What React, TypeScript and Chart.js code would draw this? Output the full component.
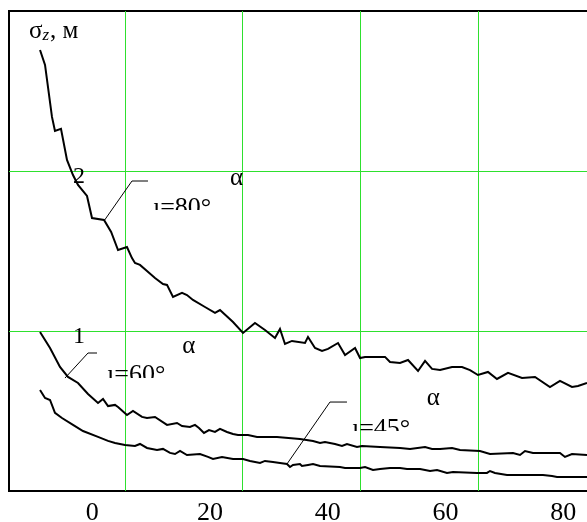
import React, { useEffect, useRef } from 'react';
import { Chart, registerables } from 'chart.js';

Chart.register(...registerables);

// ---- axis values ----
const xTickValues = [0, 20, 40, 60, 80];
const xGridValues = [5.5, 25.5, 45.5, 65.5];
const yGridValues = [1, 2];
const xMin = -14.15;
const xMax = 84.03;
const yMin = 0;
const yMax = 3;

// ---- curve 2 : alpha = 80 deg ----
const curve80X = [-8.88, -8.03, -6.85, -6.34, -5.32, -4.3, -3.28, -2.43, -0.9, -0.05, 1.99, 3.2, 4.37, 5.89, 6.74, 7.25, 8.1, 9.29, 10.65, 12.01, 12.69, 13.71, 15.24, 16.08, 17.1, 19.14, 20.84, 21.69, 23.9, 25.6, 27.63, 29.33, 31.03, 31.88, 32.73, 33.92, 36.13, 36.64, 37.83, 39.02, 40.04, 41.74, 42.93, 44.63, 45.48, 46.33, 49.72, 50.57, 52.27, 53.63, 55.33, 56.52, 57.71, 59.07, 61.1, 62.8, 64.16, 65.51, 67.21, 68.74, 70.61, 72.99, 75.2, 77.74, 79.44, 81.48, 82.5, 84.03];
const curve80Y = [2.756, 2.663, 2.338, 2.25, 2.263, 2.069, 1.975, 1.913, 1.844, 1.706, 1.694, 1.619, 1.506, 1.525, 1.456, 1.425, 1.413, 1.375, 1.331, 1.294, 1.288, 1.213, 1.238, 1.225, 1.194, 1.15, 1.113, 1.131, 1.056, 0.988, 1.05, 1.006, 0.956, 1.013, 0.919, 0.938, 0.925, 0.963, 0.894, 0.875, 0.888, 0.925, 0.85, 0.894, 0.831, 0.838, 0.838, 0.806, 0.8, 0.819, 0.75, 0.813, 0.763, 0.756, 0.775, 0.775, 0.756, 0.725, 0.744, 0.7, 0.738, 0.706, 0.713, 0.65, 0.688, 0.65, 0.656, 0.675];

// ---- curve 1 : alpha = 60 deg ----
const curve60X = [-8.88, -7.18, -5.49, -4.13, -2.43, -0.73, 0.97, 1.82, 2.67, 3.86, 4.37, 5.89, 6.91, 8.44, 9.29, 10.65, 12.69, 14.39, 15.24, 16.59, 17.44, 18.12, 18.97, 19.82, 20.84, 21.69, 22.88, 23.9, 24.75, 26.45, 27.98, 31.37, 35.27, 37.49, 38.68, 39.52, 41.22, 42.41, 43.26, 44.96, 45.81, 48.87, 52.27, 53.97, 56.52, 57.71, 59.07, 61.1, 62.46, 65.85, 67.55, 71.46, 72.65, 73.5, 74.86, 79.44, 80.29, 81.48, 84.03];
const curve60Y = [0.994, 0.894, 0.775, 0.713, 0.675, 0.606, 0.55, 0.575, 0.531, 0.538, 0.525, 0.475, 0.5, 0.463, 0.456, 0.463, 0.413, 0.425, 0.406, 0.4, 0.413, 0.394, 0.363, 0.381, 0.369, 0.388, 0.369, 0.356, 0.35, 0.35, 0.338, 0.338, 0.325, 0.313, 0.3, 0.306, 0.294, 0.281, 0.294, 0.275, 0.281, 0.275, 0.269, 0.263, 0.275, 0.263, 0.263, 0.269, 0.256, 0.25, 0.231, 0.238, 0.225, 0.25, 0.238, 0.238, 0.213, 0.231, 0.225];

// ---- curve 3 : alpha = 45 deg ----
const curve45X = [-8.88, -8.03, -7.18, -6.34, -5.15, -3.28, -1.58, 0.97, 2.67, 3.86, 5.55, 7.25, 8.1, 9.29, 10.99, 12.01, 13.2, 14.05, 14.9, 16.08, 18.29, 19.65, 20.5, 22.03, 23.9, 25.6, 26.79, 28.49, 29.33, 30.69, 31.88, 33.07, 33.58, 34.09, 35.27, 35.61, 36.64, 37.49, 38.68, 42.07, 42.93, 45.48, 46.33, 47.68, 48.87, 50.57, 52.27, 53.46, 55.67, 57.37, 58.56, 60.25, 61.27, 65.34, 67.04, 67.55, 68.4, 70.44, 72.65, 76.56, 78.09, 78.94, 84.03];
const curve45Y = [0.631, 0.581, 0.569, 0.488, 0.456, 0.413, 0.375, 0.338, 0.313, 0.3, 0.288, 0.281, 0.294, 0.269, 0.256, 0.263, 0.238, 0.231, 0.25, 0.225, 0.231, 0.213, 0.2, 0.213, 0.2, 0.2, 0.188, 0.175, 0.188, 0.181, 0.175, 0.169, 0.15, 0.163, 0.169, 0.156, 0.163, 0.169, 0.156, 0.15, 0.144, 0.144, 0.15, 0.131, 0.138, 0.144, 0.144, 0.138, 0.138, 0.125, 0.131, 0.113, 0.119, 0.113, 0.113, 0.125, 0.113, 0.1, 0.1, 0.1, 0.094, 0.088, 0.088];

// ---- leader lines (data units) ----
const leader80X = [1.99, 6.74, 9.46];
const leader80Y = [1.688, 1.9375, 1.9375];
const leader60X = [-4.64, -0.73, 0.8];
const leader60Y = [0.706, 0.8625, 0.8625];
const leader45X = [33.07, 40.37, 43.26];
const leader45Y = [0.169, 0.556, 0.556];

// ---- text annotations (data units) ----
const curveNumbers = [
  { text: '2', x: -3.28, y: 1.925 },
  { text: '1', x: -3.28, y: 0.925 },
];
const alphaLabels = [
  { text: 'α', x: 23.4, y: 1.9125 },
  { text: 'α', x: 15.27, y: 0.8625 },
  { text: 'α', x: 56.82, y: 0.5375 },
];
const angleLabels = [
  { text: 'ı=80°', x: 10.3, y: 1.725, clipY: 1.756 },
  { text: 'ı=60°', x: 2.5, y: 0.681, clipY: 0.706 },
  { text: 'ı=45°', x: 44.1, y: 0.344, clipY: 0.375 },
];
const axisTitle = { sigma: 'σ', sub: 'z', rest: ', м' };

const SERIF = '"Liberation Serif", "Times New Roman", serif';
const GREEN = '#2ee02e';

const zip = (xs: number[], ys: number[]) => xs.map((x, i) => ({ x, y: ys[i] }));

const gridPlugin = {
  id: 'greenGrid',
  beforeDatasetsDraw(chart: any) {
    const { ctx, chartArea, scales } = chart;
    const sx = scales.x;
    const sy = scales.y;
    ctx.save();
    ctx.strokeStyle = GREEN;
    ctx.lineWidth = 1;
    ctx.beginPath();
    xGridValues.forEach((v) => {
      const px = Math.round(sx.getPixelForValue(v)) + 0.5;
      ctx.moveTo(px, chartArea.top);
      ctx.lineTo(px, chartArea.bottom);
    });
    yGridValues.forEach((v) => {
      const py = Math.round(sy.getPixelForValue(v)) + 0.5;
      ctx.moveTo(chartArea.left, py);
      ctx.lineTo(chartArea.right, py);
    });
    ctx.stroke();
    ctx.restore();
  },
};

const annotPlugin = {
  id: 'annot',
  afterDatasetsDraw(chart: any) {
    const { ctx, chartArea, scales } = chart;
    const sx = scales.x;
    const sy = scales.y;
    ctx.save();
    ctx.fillStyle = '#000';
    ctx.textBaseline = 'alphabetic';
    ctx.textAlign = 'left';

    ctx.font = `24px ${SERIF}`;
    curveNumbers.forEach((t) => {
      ctx.fillText(t.text, sx.getPixelForValue(t.x), sy.getPixelForValue(t.y));
    });
    ctx.font = `25px ${SERIF}`;
    alphaLabels.forEach((t) => {
      ctx.fillText(t.text, sx.getPixelForValue(t.x), sy.getPixelForValue(t.y));
    });
    ctx.font = `26px ${SERIF}`;
    angleLabels.forEach((t) => {
      const px = sx.getPixelForValue(t.x);
      const py = sy.getPixelForValue(t.y);
      const clip = sy.getPixelForValue(t.clipY);
      ctx.save();
      ctx.beginPath();
      ctx.rect(px - 5, py - 40, 90, clip - (py - 40));
      ctx.clip();
      ctx.fillText(t.text, px, py);
      ctx.restore();
    });

    // axis title
    let ax = chartArea.left + 20;
    const ay = chartArea.top + 27;
    ctx.font = `25px ${SERIF}`;
    ctx.fillText(axisTitle.sigma, ax, ay);
    ax += ctx.measureText(axisTitle.sigma).width;
    ctx.font = `italic 17px ${SERIF}`;
    ctx.fillText(axisTitle.sub, ax, ay + 2);
    ax += ctx.measureText(axisTitle.sub).width + 1;
    ctx.font = `25px ${SERIF}`;
    ctx.fillText(axisTitle.rest, ax, ay);
    ctx.restore();
  },
};

export default function App() {
  const ref = useRef<HTMLCanvasElement | null>(null);
  useEffect(() => {
    if (!ref.current) return;
    const curveStyle = { borderColor: '#000', borderWidth: 2, pointRadius: 0, tension: 0, fill: false };
    const leaderStyle = { borderColor: '#000', borderWidth: 1, pointRadius: 0, tension: 0, fill: false };
    const chart = new Chart(ref.current, {
      type: 'line',
      data: {
        datasets: [
          { label: 'α=80°', data: zip(curve80X, curve80Y), ...curveStyle },
          { label: 'α=60°', data: zip(curve60X, curve60Y), ...curveStyle },
          { label: 'α=45°', data: zip(curve45X, curve45Y), ...curveStyle },
          { label: 'l80', data: zip(leader80X, leader80Y), ...leaderStyle },
          { label: 'l60', data: zip(leader60X, leader60Y), ...leaderStyle },
          { label: 'l45', data: zip(leader45X, leader45Y), ...leaderStyle },
        ],
      },
      options: {
        animation: false,
        responsive: false,
        maintainAspectRatio: false,
        parsing: false as any,
        layout: { padding: 0 },
        plugins: { legend: { display: false }, tooltip: { enabled: false } },
        scales: {
          x: {
            type: 'linear',
            position: 'bottom',
            min: xMin,
            max: xMax,
            afterBuildTicks: (s: any) => {
              s.ticks = xTickValues.map((v) => ({ value: v }));
            },
            afterFit: (s: any) => {
              s.height = 31;
            },
            grid: { display: false, drawTicks: false },
            border: { display: true, color: '#000', width: 2 },
            ticks: {
              color: '#000',
              padding: 9,
              maxRotation: 0,
              autoSkip: false,
              font: { family: SERIF, size: 26, lineHeight: 1 },
              callback: (v: any) => String(v),
            },
          },
          x2: {
            type: 'linear',
            position: 'top',
            min: xMin,
            max: xMax,
            afterFit: (s: any) => {
              s.height = 11;
            },
            grid: { display: false, drawTicks: false },
            border: { display: true, color: '#000', width: 2 },
            ticks: { display: false },
          },
          y: {
            type: 'linear',
            position: 'left',
            min: yMin,
            max: yMax,
            afterFit: (s: any) => {
              s.width = 9;
            },
            grid: { display: false, drawTicks: false },
            border: { display: true, color: '#000', width: 2 },
            ticks: { display: false },
          },
        },
      },
      plugins: [gridPlugin, annotPlugin],
    });
    return () => chart.destroy();
  }, []);

  return (
    <div style={{ position: 'absolute', left: 0, top: 0, width: 587, height: 522, background: '#fff' }}>
      <canvas ref={ref} width={587} height={522} style={{ display: 'block' }} />
    </div>
  );
}
